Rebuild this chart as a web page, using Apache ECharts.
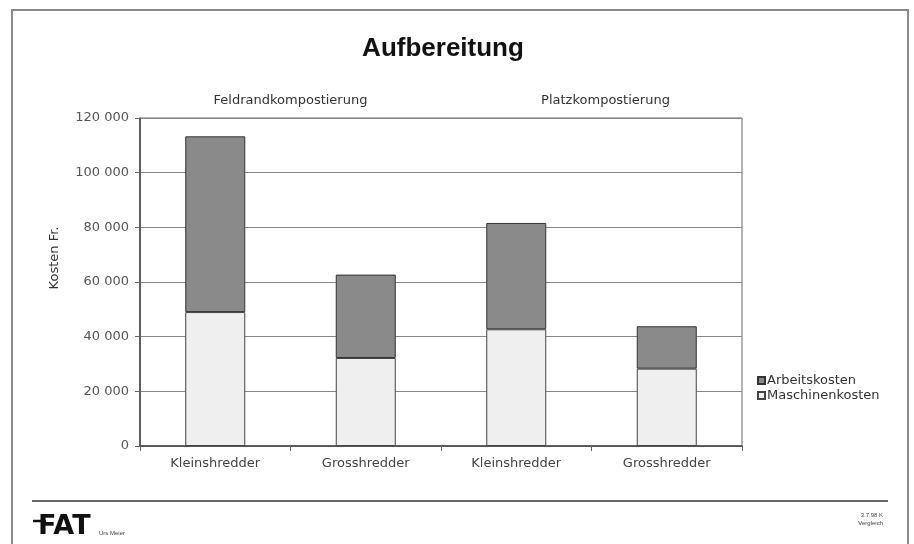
<!DOCTYPE html>
<html>
<head>
<meta charset="utf-8">
<script src="https://cdn.jsdelivr.net/npm/echarts@6/dist/echarts.min.js"></script>
<style>html,body{margin:0;padding:0;background:#fff}#c{width:914px;height:544px}</style>
</head>
<body>
<div id="c"></div>
<script>
var categories = ['Kleinshredder', 'Grosshredder', 'Kleinshredder', 'Grosshredder'];
var groups = ['Feldrandkompostierung', 'Platzkompostierung'];
var maschinenkosten = [49000, 32200, 42700, 28300];
var arbeitskosten = [64300, 30500, 38900, 15500];
var yTicks = { min: 0, max: 120000, interval: 20000 };

var FONT = 'DejaVu Sans';
var chart = echarts.init(document.getElementById('c'), null, { renderer: 'canvas' });

function fmt(v) {
  var s = String(Math.round(v));
  return s.replace(/\B(?=(\d{3})+(?!\d))/g, ' ');
}

chart.setOption({
  backgroundColor: '#ffffff',
  animation: false,
  title: {
    text: 'Aufbereitung',
    left: 438, top: 31, textAlign: 'center',
    textStyle: { fontFamily: 'Liberation Sans', fontWeight: 'bold', fontSize: 26, color: '#111' }
  },
  legend: {
    data: ['Arbeitskosten', 'Maschinenkosten'],
    orient: 'vertical',
    left: 752, top: 369,
    itemWidth: 7, itemHeight: 7, itemGap: 2,
    icon: 'rect',
    textStyle: { fontFamily: FONT, fontSize: 13, color: '#333', padding: [0, 0, 0, -3] }
  },
  grid: {
    left: 140, right: 172, top: 118, bottom: 98,
    show: true, borderColor: '#666', borderWidth: 1,
    containLabel: false
  },
  xAxis: [{
    type: 'category',
    data: categories,
    position: 'bottom',
    axisLine: { lineStyle: { color: '#444', width: 1.5 } },
    axisTick: { show: true, length: 5, lineStyle: { color: '#666' } },
    axisLabel: { fontFamily: FONT, fontSize: 13, color: '#444', margin: 11 }
  }, {
    type: 'category',
    data: groups,
    position: 'top',
    axisLine: { show: false },
    axisTick: { show: false },
    axisLabel: {
      fontFamily: FONT, fontSize: 13, color: '#333', margin: 11,
      formatter: function (v, i) { return i === 1 ? '{b|' + v + '}' : '{a|' + v + '}'; },
      rich: {
        a: { fontFamily: FONT, fontSize: 13, color: '#333' },
        b: { fontFamily: FONT, fontSize: 13, color: '#333', padding: [0, 0, 0, 28] }
      }
    }
  }],
  yAxis: {
    type: 'value',
    min: yTicks.min, max: yTicks.max, interval: yTicks.interval,
    axisLine: { show: true, lineStyle: { color: '#444', width: 1.5 } },
    axisTick: { show: true, length: 5, lineStyle: { color: '#666' } },
    axisLabel: { fontFamily: FONT, fontSize: 13, color: '#555', margin: 11, formatter: fmt },
    splitLine: { show: true, lineStyle: { color: '#888', width: 1 } }
  },
  series: [{
    name: 'Maschinenkosten',
    type: 'bar',
    stack: 'k',
    barWidth: 60,
    data: maschinenkosten,
    itemStyle: { color: '#efefef', borderColor: '#444', borderWidth: 1 }
  }, {
    name: 'Arbeitskosten',
    type: 'bar',
    stack: 'k',
    barWidth: 60,
    data: arbeitskosten,
    itemStyle: { color: '#8a8a8a', borderColor: '#333', borderWidth: 1 }
  }],
  graphic: [
    { type: 'rect', silent: true, z: -10, shape: { x: 12, y: 10, width: 896, height: 560 },
      style: { fill: 'none', stroke: '#8a8a8a', lineWidth: 2 } },
    { type: 'text', silent: true, x: 55, y: 258, rotation: Math.PI / 2,
      style: { text: 'Kosten Fr.', fontFamily: FONT, fontSize: 13, fill: '#333', align: 'center', verticalAlign: 'middle' } },
    { type: 'line', silent: true, shape: { x1: 32, y1: 501, x2: 888, y2: 501 },
      style: { stroke: '#666', lineWidth: 2 } },
    { type: 'text', silent: true, x: 38, y: 527,
      style: { text: 'FAT', fontFamily: 'DejaVu Sans', fontWeight: 'bold', fontSize: 27, fill: '#111', align: 'left', verticalAlign: 'middle' } },
    { type: 'line', silent: true, shape: { x1: 33, y1: 521, x2: 46, y2: 521 },
      style: { stroke: '#111', lineWidth: 2.5 } },
    { type: 'text', silent: true, x: 99, y: 533,
      style: { text: 'Urs Meier', fontFamily: 'Liberation Sans', fontSize: 6, fill: '#444', align: 'left', verticalAlign: 'middle' } },
    { type: 'text', silent: true, x: 883, y: 515,
      style: { text: '3.7.98 K', fontFamily: 'Liberation Sans', fontSize: 6, fill: '#444', align: 'right', verticalAlign: 'middle' } },
    { type: 'text', silent: true, x: 883, y: 523,
      style: { text: 'Vergleich', fontFamily: 'Liberation Sans', fontSize: 6, fill: '#444', align: 'right', verticalAlign: 'middle' } }
  ]
});
</script>
</body>
</html>
